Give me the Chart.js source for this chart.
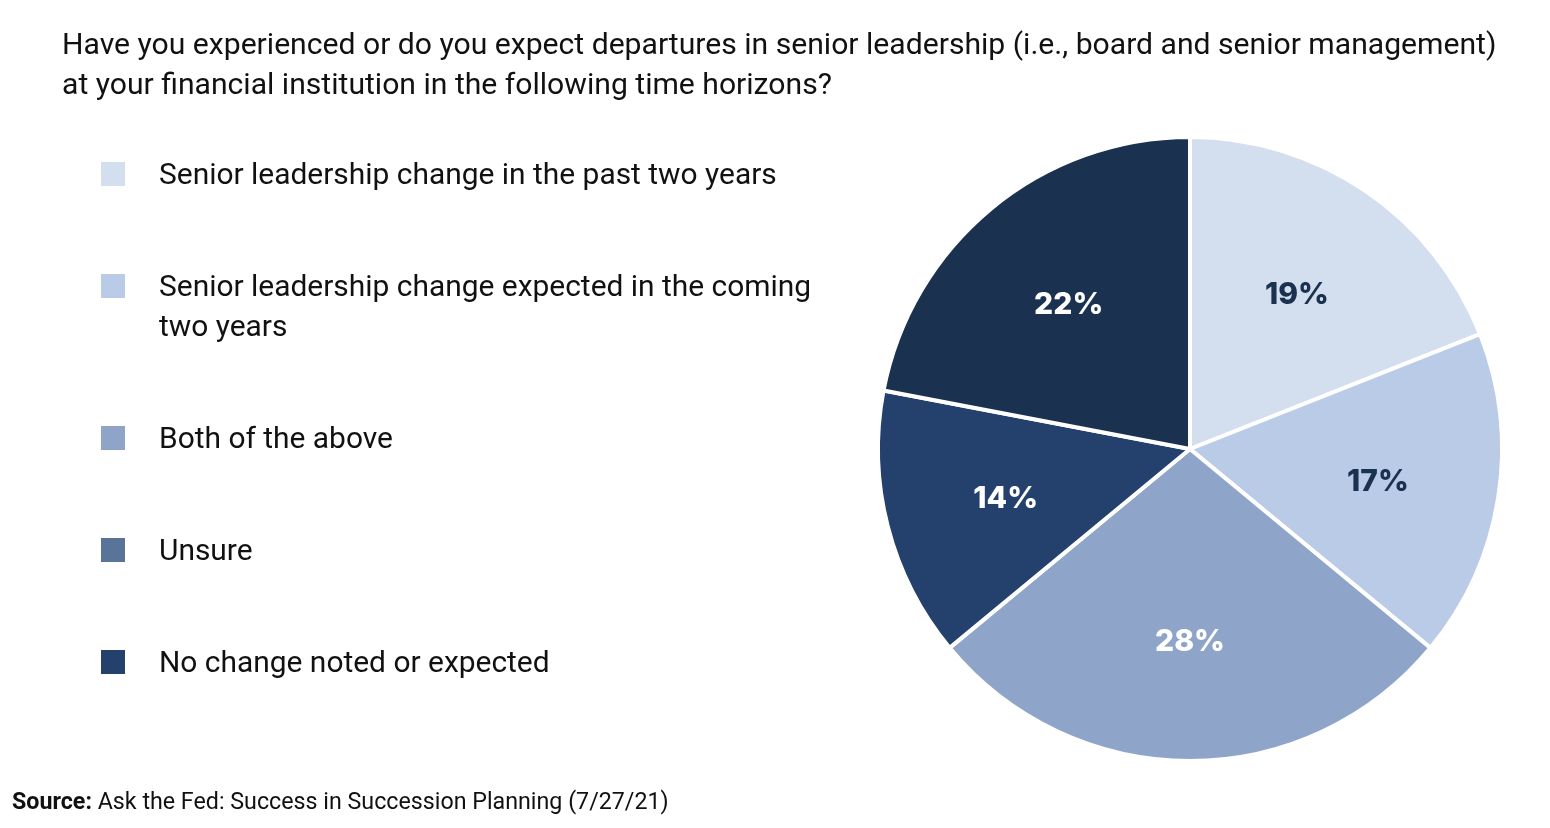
<!DOCTYPE html>
<html>
<head>
<meta charset="utf-8">
<script src="https://cdn.jsdelivr.net/npm/chart.js@4.4.1/dist/chart.umd.min.js"></script>
<style>
  html, body { margin:0; padding:0; background:#fff; }
  body { width:1550px; height:828px; position:relative; overflow:hidden; font-family:Roboto, "Open Sans", sans-serif; color:#111; }
  #title { position:absolute; left:62px; top:24px; font-size:26px; line-height:40px; white-space:nowrap; }
  #title div { display:inline-block; }
  #legend { position:absolute; left:101px; top:0; }
  .sw { position:absolute; left:0; width:24px; height:24px; }
  .lt { position:absolute; left:58px; font-size:26px; line-height:40px; white-space:nowrap; }
  #source { position:absolute; left:12px; top:786px; font-size:21px; line-height:30px; white-space:nowrap; }
  #c { position:absolute; left:0; top:0; }
</style>
</head>
<body>
<canvas id="c" width="1550" height="828"></canvas>
<div id="title"></div>
<div id="legend"></div>
<div id="source"><b>Source:</b> Ask the Fed: Success in Succession Planning (7/27/21)</div>
<script>
const titleLines = [
  "Have you experienced or do you expect departures in senior leadership (i.e., board and senior management)",
  "at your financial institution in the following time horizons?"
];
const categories = [
  ["Senior leadership change in the past two years"],
  ["Senior leadership change expected in the coming", "two years"],
  ["Both of the above"],
  ["Unsure"],
  ["No change noted or expected"]
];
const values = [19, 17, 28, 14, 22];
const sliceColors = ["#d3deef", "#bacbe7", "#8ea5c9", "#24416e", "#1b3150"];
const legendColors = ["#d3deef", "#bacbe7", "#8ea5c9", "#5a7399", "#24416e"];
const labelColors = ["#1b3150", "#1b3150", "#ffffff", "#ffffff", "#ffffff"];

// Title
const t = document.getElementById('title');
t.innerHTML = titleLines.map(s => '<div>' + s + '</div><br>').join('');

// Legend
const lg = document.getElementById('legend');
let y = 174; // center of first line
categories.forEach((lines, i) => {
  const sw = document.createElement('div');
  sw.className = 'sw';
  sw.style.top = (y - 12) + 'px';
  sw.style.background = legendColors[i];
  lg.appendChild(sw);
  const tx = document.createElement('div');
  tx.className = 'lt';
  tx.style.top = (y - 20) + 'px';
  tx.innerHTML = lines.join('<br>');
  lg.appendChild(tx);
  y += 112 + (lines.length - 1) * 40;
});

// fit text widths to the reference
function measure(text, size, weight) {
  const s = document.createElement('span');
  s.style.cssText = 'position:absolute;visibility:hidden;white-space:nowrap;font-size:' + size + 'px;font-weight:' + (weight || 400);
  s.textContent = text;
  document.body.appendChild(s);
  const w = s.getBoundingClientRect().width;
  s.remove();
  return w;
}
t.style.fontSize = (26 * 1435 / measure(titleLines[0], 26)) + 'px';
const lsize = 26 * 618 / measure(categories[0][0], 26);
document.querySelectorAll('.lt').forEach(e => e.style.fontSize = lsize + 'px');
const src = document.getElementById('source');
src.style.fontSize = (21 * 657 / src.getBoundingClientRect().width) + 'px';

const labelPlugin = {
  id: 'sliceLabels',
  afterDatasetsDraw(chart) {
    const ctx = chart.ctx;
    const meta = chart.getDatasetMeta(0);
    ctx.save();
    ctx.font = '800 30px Inter, Lato, "DejaVu Sans", sans-serif';
    ctx.textAlign = 'center';
    ctx.textBaseline = 'middle';
    meta.data.forEach((arc, i) => {
      const p = arc.getProps(['x', 'y', 'startAngle', 'endAngle', 'outerRadius'], true);
      const a = (p.startAngle + p.endAngle) / 2;
      const r = p.outerRadius * 0.61;
      ctx.fillStyle = labelColors[i];
      ctx.fillText(values[i] + '%', p.x + Math.cos(a) * r, p.y + Math.sin(a) * r + 3);
    });
    ctx.restore();
  }
};

new Chart(document.getElementById('c'), {
  type: 'pie',
  data: {
    labels: categories.map(c => c.join(' ')),
    datasets: [{
      data: values,
      backgroundColor: sliceColors,
      borderColor: '#ffffff',
      borderWidth: 4
    }]
  },
  options: {
    responsive: false,
    animation: false,
    layout: { padding: { left: 876, right: 46, top: 135, bottom: 65 } },
    plugins: { legend: { display: false }, tooltip: { enabled: false } }
  },
  plugins: [labelPlugin]
});
</script>
</body>
</html>
